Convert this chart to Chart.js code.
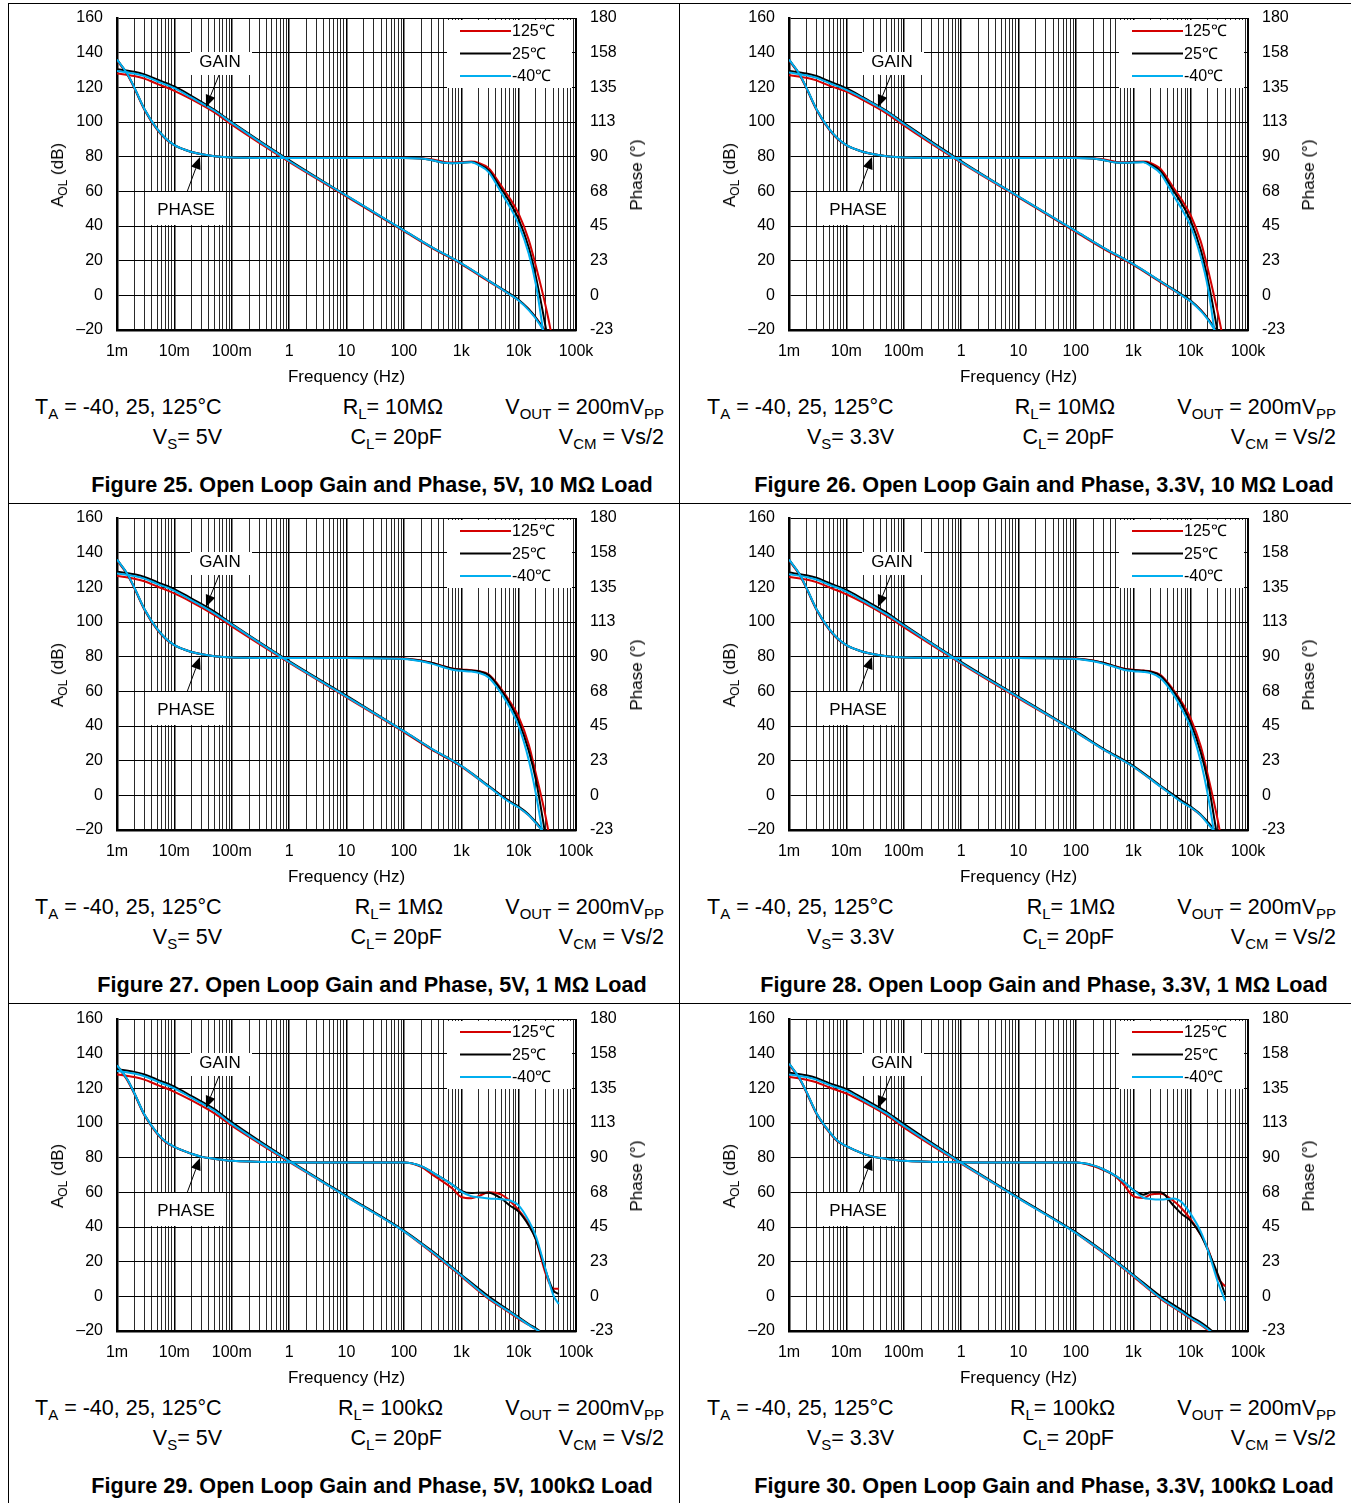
<!DOCTYPE html>
<html>
<head>
<meta charset="utf-8">
<script src="https://cdn.jsdelivr.net/npm/chart.js@4.4.0/dist/chart.umd.min.js"></script>
<style>
body { margin: 0; background: #fff; width: 1351px; height: 1503px; position: relative; overflow: hidden; font-family: "Liberation Sans", Arial, sans-serif; color: #000; }
.cell { position: absolute; width: 672px; height: 500px; }
.cell canvas { position: absolute; left: 0; top: 0; }
.t { position: absolute; white-space: nowrap; font-size: 21.5px; line-height: 24px; }
.r { text-align: right; width: 300px; }
.ttl { position: absolute; white-space: nowrap; font-size: 21.6px; font-weight: bold; line-height: 24px; transform: translateX(-50%); }
.rot { position: absolute; white-space: nowrap; font-size: 17px; line-height: 20px; transform: translate(-50%, -50%) rotate(-90deg); }
sub { font-size: 15px; vertical-align: -5px; line-height: 0; }
.rot sub { font-size: 12px; vertical-align: -4px; }
.line { position: absolute; background: #000; }
</style>
</head>
<body>
<script>
// frequency points (Hz)
const gainF = [0.001, 0.002, 0.003, 0.005, 0.01, 0.02, 0.05, 0.1, 1, 10, 100, 300, 1000, 3000, 7000, 10000, 15000, 20000, 30000, 50000];
const phaseF = [0.001, 0.0015, 0.002, 0.003, 0.005, 0.007, 0.01, 0.02, 0.03, 0.05, 0.1, 1, 10, 100, 200, 300, 500, 700, 1000, 1500, 2000, 3000, 5000, 7000, 10000, 15000, 20000, 30000, 40000, 50000];

const decadeLabels = ['1m', '10m', '100m', '1', '10', '100', '1k', '10k', '100k'];
const gainTicks = [-20, 0, 20, 40, 60, 80, 100, 120, 140, 160];
const gainTickLabels = ['–20', '0', '20', '40', '60', '80', '100', '120', '140', '160'];
const phaseTicks = [-22.5, 0, 22.5, 45, 67.5, 90, 112.5, 135, 157.5, 180];
const phaseTickLabels = ['-23', '0', '23', '45', '68', '90', '113', '135', '158', '180'];
const tempLabels = ['125℃', '25℃', '-40℃'];
const tempColors = ['#d40000', '#000000', '#00aeef'];

// Figure 25 : 5V, 10M
const fig25GainHot  = [128, 126.5, 125, 122, 118, 113, 105.5, 98.5, 77, 57, 37, 27.5, 18, 8, 0.5, -3, -8, -13, -21, -36];
const fig25GainRoom = [130.5, 129, 127.5, 124.5, 120.5, 115, 107, 100, 78, 57.5, 37.5, 28, 18.5, 8.5, 1, -2.5, -8, -13, -22, -38];
const fig25GainCold = [129.5, 128, 126.5, 123.5, 119.5, 114, 106.5, 99.5, 77.5, 57.5, 37.5, 28, 18.5, 8.5, 0.5, -3, -8.5, -13.5, -23, -40];
const fig25PhaseHot  = [152.5, 143.5, 134.5, 120.5, 107.5, 101.5, 97.3, 93, 91.5, 90.3, 89.5, 89.3, 89.3, 89.3, 89, 88.3, 86.6, 86.2, 86.5, 86.8, 86, 82.5, 71, 63, 53, 36, 19, -8, -32, -60];
const fig25PhaseRoom = [153, 144, 135, 121, 108, 102, 97.5, 93, 91.5, 90.3, 89.5, 89.2, 89.2, 89.2, 88.8, 87.8, 86, 85.8, 86.1, 86.5, 85.2, 81, 69, 60.5, 49.5, 31, 12, -22, -50, -75];
const fig25PhaseCold = [153, 144, 135, 121, 108, 102, 97.5, 93, 91.5, 90.3, 89.5, 89.2, 89.2, 89.2, 88.8, 87.8, 86, 85.7, 86, 86.4, 84.5, 80, 66.5, 57.5, 46, 27, 7, -35, -60, -80];

// Figure 26 : 3.3V, 10M
const fig26GainHot  = [127, 125.5, 124, 121, 117.5, 112.5, 105, 98, 76.5, 56.5, 36.5, 27, 17.5, 7.5, 0, -3.5, -8.5, -13.5, -22, -38];
const fig26GainRoom = [129.5, 128, 126.5, 123.5, 119.5, 114, 106.5, 99.5, 77.5, 57, 37, 27.5, 18, 8, 0.5, -3, -8.5, -13.5, -22.5, -39];
const fig26GainCold = [128.5, 127, 125.5, 122.5, 118.5, 113.5, 106, 99, 77, 57, 37, 27.5, 18, 8, 0, -3.5, -9, -14, -23.5, -40];
const fig26PhaseHot  = [152.5, 143.5, 134.5, 120.5, 107.5, 101.5, 97.3, 93, 91.5, 90.3, 89.5, 89.3, 89.3, 89.3, 89, 88.3, 86.6, 86.3, 86.6, 86.8, 86, 82, 70, 62, 52, 35, 17, -12, -36, -62];
const fig26PhaseRoom = [153, 144, 135, 121, 108, 102, 97.5, 93, 91.5, 90.3, 89.5, 89.2, 89.2, 89.2, 88.8, 87.8, 86.2, 86, 86.3, 86.5, 85, 80.5, 68, 59.5, 48.5, 29.5, 10, -25, -52, -78];
const fig26PhaseCold = [153, 144, 135, 121, 108, 102, 97.5, 93, 91.5, 90.3, 89.5, 89.2, 89.2, 89.2, 88.8, 87.8, 86.2, 86, 86.2, 86.4, 84, 79, 65, 56, 45, 25, 5, -38, -62, -82];

// Figure 27 : 5V, 1M
const fig27GainHot  = [126.5, 125, 123.5, 120.5, 116.5, 111.5, 104, 97.5, 76.5, 56.5, 36.5, 26.5, 16.5, 5, -3.5, -7, -11.5, -16, -23, -35];
const fig27GainRoom = [129, 127.5, 126, 123, 119, 113.5, 106, 99, 77.5, 57.5, 37, 27, 17, 5.5, -3.5, -6.5, -11, -15.5, -22.5, -35];
const fig27GainCold = [128, 126.5, 125, 122, 118, 112.5, 105, 98.5, 77, 57, 37, 27, 17, 5, -4, -7, -11.5, -16, -23.5, -36];
const fig27PhaseHot  = [152.5, 143.5, 134.5, 120.5, 107.5, 101.5, 97.3, 93, 91.5, 90.3, 89.5, 89.3, 89.3, 88.8, 87.5, 86.1, 83.8, 82.4, 81.7, 81.2, 80.7, 78.5, 69, 61, 51, 33, 14, -15, -42, -70];
const fig27PhaseRoom = [153, 144, 135, 121, 108, 102, 97.5, 93, 91.5, 90.3, 89.5, 89.2, 89.2, 88.7, 87.4, 86, 83.6, 82.2, 81.5, 81, 80.5, 78, 68, 59.5, 48, 29, 10, -28, -55, -80];
const fig27PhaseCold = [153, 144, 135, 121, 108, 102, 97.5, 93, 91.5, 90.3, 89.5, 89.2, 89.2, 88.5, 87, 85.5, 83, 81.5, 80.8, 80.3, 79.5, 76.5, 66, 57, 45, 23, 1, -38, -65, -85];

// Figure 28 : 3.3V, 1M
const fig28GainHot  = [126, 124.5, 123, 120, 116, 111, 103.5, 97, 76, 56, 36.5, 26.5, 16.5, 5, -3.5, -7, -11.5, -16, -23, -35];
const fig28GainRoom = [128.5, 127, 125.5, 122.5, 118.5, 113, 105.5, 98.5, 77, 57, 37, 27, 17, 5.5, -3, -6.5, -11, -15.5, -22.5, -35];
const fig28GainCold = [127.5, 126, 124.5, 121.5, 117.5, 112, 104.5, 98, 76.5, 56.5, 36.5, 26.5, 16.5, 5, -4, -7, -11.5, -16.5, -23.5, -36];
const fig28PhaseHot  = [152.5, 143.5, 134.5, 120.5, 107.5, 101.5, 97.3, 93, 91.5, 90.3, 89.5, 89.3, 89.3, 88.8, 87.5, 86, 83.6, 82.2, 81.5, 81, 80.5, 78, 68.5, 60.5, 50, 32, 13, -17, -44, -72];
const fig28PhaseRoom = [153, 144, 135, 121, 108, 102, 97.5, 93, 91.5, 90.3, 89.5, 89.2, 89.2, 88.7, 87.4, 86, 83.5, 82, 81.3, 80.8, 80.3, 77.5, 67.5, 59, 47, 28, 9, -30, -57, -82];
const fig28PhaseCold = [153, 144, 135, 121, 108, 102, 97.5, 93, 91.5, 90.3, 89.5, 89.2, 89.2, 88.5, 87, 85.5, 83, 81.4, 80.6, 80.1, 79.3, 76, 65.5, 56, 44, 22, 0, -40, -66, -86];

// Figure 29 : 5V, 100k
const fig29GainHot  = [128, 126.5, 125, 122, 118, 113, 105.5, 98.5, 77.5, 57.5, 37.5, 25.5, 11.5, -1.5, -9.5, -13, -16.5, -19, -23, -29];
const fig29GainRoom = [131, 129.5, 128, 125, 121, 115.5, 108, 100.5, 78.5, 58, 38, 26.5, 12.5, 0, -8.5, -12, -16, -18.5, -22.5, -29];
const fig29GainCold = [130, 128.5, 127, 124, 120, 114.5, 107, 99.5, 78, 57.5, 37.5, 26, 12, -1, -9, -12.5, -16.5, -19, -23, -29];
const fig29PhaseHot  = [149.5, 140.5, 131.5, 117.5, 105.5, 100, 96.8, 92.5, 90.5, 89.3, 88, 87, 86.8, 86.8, 84, 79.5, 74, 70, 64.5, 63.7, 65, 67.5, 66, 62, 56, 47, 37, 14, 5, 5];
const fig29PhaseRoom = [150, 141, 132, 118, 106, 100.5, 97, 92.5, 90.5, 89.3, 88, 87, 86.8, 86.8, 84.5, 81, 76, 72.5, 68.5, 67, 67.3, 67.3, 63.5, 59, 55, 46, 37, 16, 4, 1.5];
const fig29PhaseCold = [150, 141, 132, 118, 106, 100.5, 97, 92.5, 90.5, 89.3, 88, 87, 86.8, 86.8, 84.5, 81, 76, 72.5, 68, 65, 64.3, 63.5, 63, 62.3, 59, 49, 39, 16.5, 1, -5];

// Figure 30 : 3.3V, 100k
const fig30GainHot  = [126.5, 125, 123.5, 120.5, 117, 112, 104.5, 97.5, 76.5, 56.5, 36.5, 25, 11.5, -1.5, -9.5, -13, -16.5, -19.5, -24, -30];
const fig30GainRoom = [129, 127.5, 126, 123, 119.5, 114, 106.5, 99.5, 77.5, 57, 37, 26, 12.5, 0, -8, -11.5, -15, -18, -23, -30];
const fig30GainCold = [128, 126.5, 125, 122, 118.5, 113, 105.5, 98.5, 77, 56.5, 36.5, 25.5, 12, -1, -9, -12.5, -16, -19, -23.5, -30];
const fig30PhaseHot  = [150.5, 141.5, 132.5, 118.5, 106.5, 100.5, 97.3, 92.5, 90.5, 89.3, 88, 87, 86.8, 86.8, 84.5, 82, 77.5, 72, 65, 63.8, 66, 66.5, 62, 57, 50, 40, 31, 12, 6.5, null];
const fig30PhaseRoom = [151, 142, 133, 119, 107, 101, 97.5, 92.5, 90.5, 89.3, 88, 87, 86.8, 86.8, 85, 82.5, 78, 74, 69, 66, 67.5, 67.5, 59, 53.5, 49, 40, 30, 14, 1, null];
const fig30PhaseCold = [151, 142, 133, 119, 107, 101, 97.5, 92.5, 90.5, 89.3, 88, 87, 86.8, 86.8, 85, 82.5, 78, 74, 69, 64, 63.2, 62.8, 63.5, 61, 53.5, 42, 30, 9, -3, null];

const panels = [
  { fig: 25, vs: '5V', rl: '10MΩ', load: '10 MΩ', gain: [fig25GainHot, fig25GainRoom, fig25GainCold], phase: [fig25PhaseHot, fig25PhaseRoom, fig25PhaseCold] },
  { fig: 26, vs: '3.3V', rl: '10MΩ', load: '10 MΩ', gain: [fig26GainHot, fig26GainRoom, fig26GainCold], phase: [fig26PhaseHot, fig26PhaseRoom, fig26PhaseCold] },
  { fig: 27, vs: '5V', rl: '1MΩ', load: '1 MΩ', gain: [fig27GainHot, fig27GainRoom, fig27GainCold], phase: [fig27PhaseHot, fig27PhaseRoom, fig27PhaseCold] },
  { fig: 28, vs: '3.3V', rl: '1MΩ', load: '1 MΩ', gain: [fig28GainHot, fig28GainRoom, fig28GainCold], phase: [fig28PhaseHot, fig28PhaseRoom, fig28PhaseCold] },
  { fig: 29, vs: '5V', rl: '100kΩ', load: '100kΩ', gain: [fig29GainHot, fig29GainRoom, fig29GainCold], phase: [fig29PhaseHot, fig29PhaseRoom, fig29PhaseCold] },
  { fig: 30, vs: '3.3V', rl: '100kΩ', load: '100kΩ', gain: [fig30GainHot, fig30GainRoom, fig30GainCold], phase: [fig30PhaseHot, fig30PhaseRoom, fig30PhaseCold] }
];

// log axis ticks 1..9 per decade
const xTicks = [];
for (let e = -3; e <= 5; e++) {
  for (let m = 1; m <= 9; m++) {
    if (e === 5 && m > 1) break;
    xTicks.push({ value: m * Math.pow(10, e), major: m === 1 });
  }
}

function arrow(ctx, x1, y1, x2, y2) {
  const a = Math.atan2(y2 - y1, x2 - x1);
  const len = 12, half = 5;
  const c = Math.cos(a), s = Math.sin(a);
  ctx.beginPath();
  ctx.moveTo(x1, y1);
  ctx.lineTo(x2 - len * c, y2 - len * s);
  ctx.lineWidth = 1;
  ctx.strokeStyle = '#000';
  ctx.stroke();
  ctx.beginPath();
  ctx.moveTo(x2, y2);
  ctx.lineTo(x2 - len * c + half * s, y2 - len * s - half * c);
  ctx.lineTo(x2 - len * c - half * s, y2 - len * s + half * c);
  ctx.closePath();
  ctx.fillStyle = '#000';
  ctx.fill();
}

// white boxes, GAIN / PHASE labels and legend inside the plot
const bodeDecor = {
  id: 'bodeDecor',
  beforeDatasetsDraw(chart) {
    const ctx = chart.ctx, a = chart.chartArea;
    const L = a.left, T = a.top;
    ctx.save();
    ctx.fillStyle = '#fff';
    ctx.fillRect(L + 73, T + 34, 62, 23);
    ctx.fillRect(L + 30, T + 174, 78, 33);
    ctx.fillRect(L + 330, T + 2, 125, 68);
    ctx.fillStyle = '#000';
    ctx.font = '17px "Liberation Sans", Arial, sans-serif';
    ctx.textAlign = 'center';
    ctx.textBaseline = 'middle';
    ctx.fillText('GAIN', L + 103, T + 44);
    ctx.fillText('PHASE', L + 69, T + 192);
    // legend
    ctx.font = '16px "Liberation Sans", Arial, sans-serif';
    ctx.textAlign = 'left';
    for (let i = 0; i < tempLabels.length; i++) {
      const y = T + 13 + i * 22.5;
      ctx.beginPath();
      ctx.moveTo(L + 343, y);
      ctx.lineTo(L + 394, y);
      ctx.strokeStyle = tempColors[i];
      ctx.lineWidth = 2;
      ctx.stroke();
      ctx.fillStyle = '#000';
      ctx.fillText(tempLabels[i], L + 395, y + 1);
    }
    ctx.restore();
  },
  afterDatasetsDraw(chart) {
    const ctx = chart.ctx, a = chart.chartArea;
    const L = a.left, T = a.top;
    ctx.save();
    arrow(ctx, L + 102, T + 57, L + 89, T + 89);
    arrow(ctx, L + 70, T + 174, L + 83, T + 139);
    ctx.restore();
  }
};

function addDiv(parent, cls, html, left, top) {
  const d = document.createElement('div');
  d.className = cls;
  d.innerHTML = html;
  d.style.left = left + 'px';
  d.style.top = top + 'px';
  parent.appendChild(d);
  return d;
}

function addLine(x, y, w, h) {
  const d = document.createElement('div');
  d.className = 'line';
  d.style.left = x + 'px';
  d.style.top = y + 'px';
  d.style.width = w + 'px';
  d.style.height = h + 'px';
  document.body.appendChild(d);
}

addLine(8, 3, 1343, 1);
addLine(8, 3, 1, 1500);
addLine(679, 3, 1, 1500);
addLine(8, 503, 1343, 1);
addLine(8, 1003, 1343, 1);

const rowTop = [0, 500, 1001];

// keep the plot box fixed: no extra room for the end labels
function noPad(s) {
  s.paddingTop = 0;
  s.paddingBottom = 0;
  s.paddingLeft = 0;
  s.paddingRight = 0;
}

panels.forEach((p, idx) => {
  const col = idx % 2, row = Math.floor(idx / 2);
  const cell = document.createElement('div');
  cell.className = 'cell';
  cell.style.left = (8 + col * 672) + 'px';
  cell.style.top = rowTop[row] + 'px';
  document.body.appendChild(cell);

  const canvas = document.createElement('canvas');
  canvas.width = 671;
  canvas.height = 395;
  canvas.style.width = '671px';
  canvas.style.height = '395px';
  cell.appendChild(canvas);

  // axis titles with subscripts
  addDiv(cell, 'rot', 'A<sub>OL</sub> (dB)', 50, 175);
  addDiv(cell, 'rot', 'Phase (°)', 629, 175);

  // conditions text
  addDiv(cell, 't', 'T<sub>A</sub> = -40, 25, 125°C', 27, 395);
  addDiv(cell, 't r', 'R<sub>L</sub>= ' + p.rl, 135, 395);
  addDiv(cell, 't r', 'V<sub>OUT</sub> = 200mV<sub>PP</sub>', 356, 395);
  addDiv(cell, 't r', 'V<sub>S</sub>= ' + p.vs, -86, 425);
  addDiv(cell, 't r', 'C<sub>L</sub>= 20pF', 134, 425);
  addDiv(cell, 't r', 'V<sub>CM</sub> = Vs/2', 356, 425);
  addDiv(cell, 'ttl', 'Figure ' + p.fig + '. Open Loop Gain and Phase, ' + p.vs + ', ' + p.load + ' Load', 364, 473);

  const datasets = [];
  for (let i = 0; i < 3; i++) {
    datasets.push({
      label: tempLabels[i] + ' gain',
      data: gainF.map((f, k) => ({ x: f, y: p.gain[i][k] })),
      yAxisID: 'y',
      borderColor: tempColors[i],
      borderWidth: 2,
      pointRadius: 0,
      cubicInterpolationMode: 'monotone',
      order: 2 - i
    });
    datasets.push({
      label: tempLabels[i] + ' phase',
      data: phaseF.map((f, k) => ({ x: f, y: p.phase[i][k] })),
      yAxisID: 'yp',
      borderColor: tempColors[i],
      borderWidth: 2,
      pointRadius: 0,
      cubicInterpolationMode: 'monotone',
      order: 2 - i
    });
  }

  new Chart(canvas.getContext('2d'), {
    type: 'line',
    data: { datasets: datasets },
    options: {
      responsive: false,
      animation: false,
      events: [],
      layout: { padding: { top: 18, left: 0, right: 0, bottom: 0 } },
      plugins: { legend: { display: false }, tooltip: { enabled: false } },
      scales: {
        x: {
          type: 'logarithmic',
          position: 'bottom',
          min: 0.001,
          max: 100000,
          afterBuildTicks: (s) => { s.ticks = xTicks.map(t => ({ value: t.value, major: t.major })); },
          afterFit: (s) => { s.height = 65; noPad(s); },
          ticks: {
            autoSkip: false,
            maxRotation: 0,
            padding: 12,
            color: '#000',
            font: { size: 16, family: '"Liberation Sans", Arial, sans-serif' },
            callback: (v, i, ticks) => ticks[i].major ? decadeLabels[Math.round(Math.log10(v)) + 3] : ''
          },
          grid: {
            drawTicks: false,
            color: (c) => (c.tick && c.tick.major) ? '#000' : '#2a2a2a',
            lineWidth: (c) => (c.tick && c.tick.major) ? 1.5 : 1
          },
          border: { display: true, color: '#000', width: 2.5 },
          title: {
            display: true,
            text: 'Frequency (Hz)',
            color: '#000',
            font: { size: 17, family: '"Liberation Sans", Arial, sans-serif' },
            padding: { top: 0, bottom: 7 }
          }
        },
        y: {
          position: 'left',
          min: -20,
          max: 160,
          afterBuildTicks: (s) => { s.ticks = gainTicks.map(v => ({ value: v })); },
          afterFit: (s) => { s.width = 109; noPad(s); },
          ticks: {
            padding: 14,
            color: '#000',
            font: { size: 16, family: '"Liberation Sans", Arial, sans-serif' },
            callback: (v, i) => gainTickLabels[i]
          },
          grid: { drawTicks: false, color: '#000', lineWidth: 1 },
          border: { display: true, color: '#000', width: 2.5 }
        },
        yp: {
          position: 'right',
          min: -22.5,
          max: 180,
          afterBuildTicks: (s) => { s.ticks = phaseTicks.map(v => ({ value: v })); },
          afterFit: (s) => { s.width = 103; noPad(s); },
          ticks: {
            padding: 14,
            color: '#000',
            font: { size: 16, family: '"Liberation Sans", Arial, sans-serif' },
            callback: (v, i) => phaseTickLabels[i]
          },
          grid: { drawTicks: false, drawOnChartArea: false },
          border: { display: true, color: '#000', width: 1 }
        }
      }
    },
    plugins: [bodeDecor]
  });
});
</script>
</body>
</html>
